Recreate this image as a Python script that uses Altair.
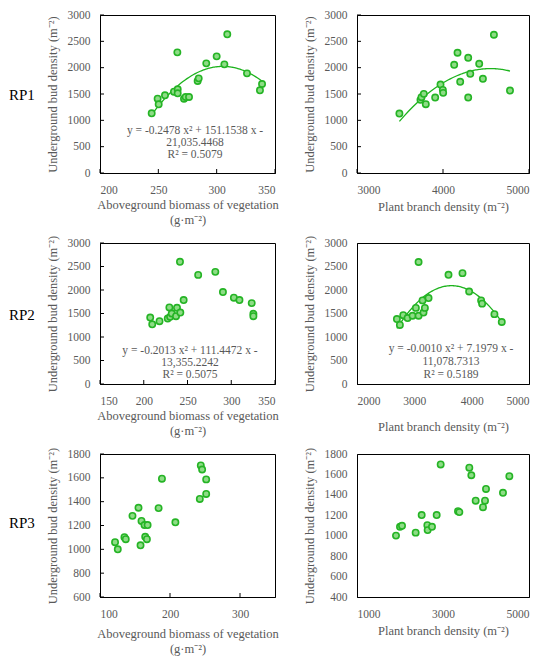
import altair as alt
import pandas as pd

# ---------------- data ----------------
rp_labels = ["RP1", "RP2", "RP3"]

rp1_bio_x = [244.3, 249.4, 250.3, 255.7, 263.4, 266.6, 266.6, 266.3, 272.0, 273.4,
             276.3, 283.7, 284.6, 291.1, 300.0, 306.6, 309.1, 326.0, 337.1, 338.9]
rp1_bio_y = [1133, 1411, 1304, 1475, 1544, 1589, 1513, 2291, 1411, 1443,
             1443, 1747, 1797, 2082, 2215, 2063, 2633, 1892, 1570, 1690]

rp1_br_x = [3493, 3738, 3750, 3777, 3800, 3909, 3971, 3998, 4002, 4130,
            4169, 4200, 4293, 4293, 4317, 4421, 4464, 4592, 4779]
rp1_br_y = [1129, 1389, 1439, 1503, 1306, 1433, 1680, 1579, 1522, 2054,
            2283, 1731, 2188, 1433, 1883, 2074, 1788, 2625, 1566]

rp2_bio_x = [207.4, 209.7, 218.0, 227.4, 229.3, 230.1, 232.0, 236.9, 238.0, 241.8,
             241.4, 245.6, 262.2, 281.8, 290.5, 303.0, 309.4, 323.4, 325.3, 325.3]
rp2_bio_y = [1414, 1271, 1336, 1393, 1629, 1429, 1500, 1443, 1621, 1521,
             2600, 1786, 2321, 2386, 1957, 1836, 1786, 1721, 1493, 1443]

rp2_br_x = [2696, 2748, 2807, 2882, 2969, 3027, 3074, 3074, 3143, 3160,
            3184, 3248, 3596, 3840, 3956, 4165, 4182, 4397, 4525]
rp2_br_y = [1382, 1256, 1465, 1403, 1452, 1619, 1452, 2596, 1779, 1521,
            1619, 1828, 2324, 2359, 1968, 1779, 1710, 1486, 1319]

rp3_bio_x = [121.5, 125.4, 134.9, 136.8, 146.4, 155.0, 157.9, 159.3, 163.6, 164.6,
             167.0, 168.0, 183.7, 188.5, 207.7, 242.6, 244.0, 245.9, 251.7, 251.7]
rp3_bio_y = [1060, 1000, 1102, 1085, 1281, 1349, 1034, 1238, 1204, 1105,
             1085, 1204, 1346, 1593, 1227, 1423, 1704, 1670, 1587, 1465]

rp3_br_x = [1907, 2000, 2047, 2364, 2504, 2636, 2643, 2744, 2853, 2946,
            3349, 3380, 3612, 3659, 3760, 3930, 3977, 4000, 4395, 4543]
rp3_br_y = [1001, 1087, 1097, 1030, 1202, 1103, 1055, 1087, 1202, 1698,
            1240, 1231, 1666, 1592, 1343, 1279, 1343, 1458, 1420, 1583]

# axis ticks
x_ticks_p1 = [200, 250, 300, 350]
x_ticks_p2 = [3000, 4000, 5000]
x_ticks_p3 = [150, 200, 250, 300, 350]
x_ticks_p4 = [2000, 3000, 4000, 5000]
x_ticks_p5 = [100, 200, 300]
x_ticks_p6 = [1000, 3000, 5000]
y_ticks_a = [0, 500, 1000, 1500, 2000, 2500, 3000]
y_ticks_b = [600, 800, 1000, 1200, 1400, 1600, 1800]
y_ticks_c = [400, 600, 800, 1000, 1200, 1400, 1600, 1800]

# equations
eq_p1 = ["y = -0.2478 x² + 151.1538 x -", "21,035.4468", "R² = 0.5079"]
eq_p2 = ["y = -0.0009 x² + 8.2828 x -", "16,852.8916", "R² = 0.5185"]
eq_p3 = ["y = -0.2013 x² + 111.4472 x -", "13,355.2242", "R² = 0.5075"]
eq_p4 = ["y = -0.0010 x² + 7.1979 x -", "11,078.7313", "R² = 0.5189"]
eq_p5 = ["y = -0.0019 x² + 4.8855 x +", "462.0289", "R² = 0.6993"]
eq_p6 = ["y = -0.0000 x² + 0.4628 x +", "270.9221", "R² = 0.5125"]

x_title_bio = ["Aboveground biomass of vegetation", "(g·m⁻²)"]
x_title_br = "Plant branch density (m⁻²)"
y_title = "Underground bud density (m⁻²)"

# ---------------- styling ----------------
FONT = "Liberation Serif"
GRAY = "#595959"
AXIS_C = "black"
PT_STROKE = "#25B425"
PT_FILL = "#8EDC86"
LINE_C = "#1DB31D"


def panel(xs, ys, xdom, xticks, ydom, yticks, xtitle, eq, eq_x, eq_ys,
          w, h, x_title_pad, rp=None, rp_y=None,
          use_fit=True, use_ticks=True, use_text=True):
    df = pd.DataFrame({"x": xs, "y": ys})
    xenc = alt.X("x:Q", scale=alt.Scale(domain=xdom, nice=False, zero=False),
                 axis=alt.Axis(values=xticks, title=xtitle, titlePadding=x_title_pad,
                               labelPadding=11, titleLineHeight=15, format="d"))
    yenc = alt.Y("y:Q", scale=alt.Scale(domain=ydom, nice=False, zero=False),
                 axis=alt.Axis(values=yticks, title=y_title, titlePadding=8,
                               labelPadding=10, format="d"))
    base = alt.Chart(df)
    layers = []
    if use_ticks:
        layers.append(alt.Chart(pd.DataFrame({"x": xticks})).mark_rule(
            color=AXIS_C, strokeWidth=1).encode(x=xenc, y=alt.value(h), y2=alt.value(h - 4)))
        layers.append(alt.Chart(pd.DataFrame({"y": yticks})).mark_rule(
            color=AXIS_C, strokeWidth=1).encode(y=yenc, x=alt.value(0), x2=alt.value(4)))
    if use_fit:
        layers.append(base.transform_regression("x", "y", method="poly", order=2).mark_line(
            color=LINE_C, strokeWidth=1.3).encode(x=xenc, y=yenc))
    layers.append(base.mark_circle(size=40, fill=PT_FILL, stroke=PT_STROKE,
                                   strokeWidth=1.6, opacity=1).encode(x=xenc, y=yenc))
    if use_text:
        for line, ly in zip(eq, eq_ys):
            layers.append(alt.Chart(pd.DataFrame({"t": [line]})).mark_text(
                font=FONT, fontSize=11.5, color=GRAY, align="center",
                baseline="middle").encode(text="t:N", x=alt.value(eq_x), y=alt.value(ly)))
    if rp is not None:
        layers.append(alt.Chart(pd.DataFrame({"t": [rp]})).mark_text(
            font=FONT, fontSize=15, color="black", align="left",
            baseline="middle").encode(text="t:N", x=alt.value(-91), y=alt.value(rp_y)))
    return alt.layer(*layers).properties(width=w, height=h)


WL, WR = 175, 172
H1, H2, H3 = 158, 141, 143

p1 = panel(rp1_bio_x, rp1_bio_y, [200, 350], x_ticks_p1, [0, 3000], y_ticks_a,
           x_title_bio, eq_p1, 95, [116, 128, 140], WL, H1, 3, rp_labels[0], 80)
p2 = panel(rp1_br_x, rp1_br_y, [3000, 5000], x_ticks_p2, [0, 3000], y_ticks_a,
           x_title_br, eq_p2, 93, [116, 130, 143], WR, H1, 5, use_text=False)
p3 = panel(rp2_bio_x, rp2_bio_y, [150, 350], x_ticks_p3, [0, 3000], y_ticks_a,
           x_title_bio, eq_p3, 90, [108, 120, 132], WL, H2, 3, rp_labels[1], 72,
           use_fit=False)
p4 = panel(rp2_br_x, rp2_br_y, [2000, 5000], x_ticks_p4, [0, 3000], y_ticks_a,
           x_title_br, eq_p4, 94, [106, 119, 132], WR, H2, 14, use_ticks=False)
p5 = panel(rp3_bio_x, rp3_bio_y, [100, 350], x_ticks_p5, [600, 1800], y_ticks_b,
           x_title_bio, eq_p5, 105, [103, 116, 129], WL, H3, 8, rp_labels[2], 69,
           use_fit=False, use_text=False)
p6 = panel(rp3_br_x, rp3_br_y, [1000, 5000], x_ticks_p6, [400, 1800], y_ticks_c,
           x_title_br, eq_p6, 88, [102, 115, 127], WR, H3, 5,
           use_fit=False, use_text=False, use_ticks=False)

chart = alt.concat(p1, p2, p3, p4, p5, p6, columns=2,
                   spacing={"row": 70, "column": 82}, bounds="flush").properties(
    padding=0
).configure_axis(
    labelFont=FONT, titleFont=FONT, labelFontSize=11.5, titleFontSize=12.5,
    labelColor=GRAY, titleColor=GRAY, titleFontWeight="normal",
    grid=False, ticks=False, domainColor="black", domainWidth=1
).configure_view(stroke="black", strokeWidth=1)

chart.save("out.html", embed_options={"renderer": "svg", "actions": False})
